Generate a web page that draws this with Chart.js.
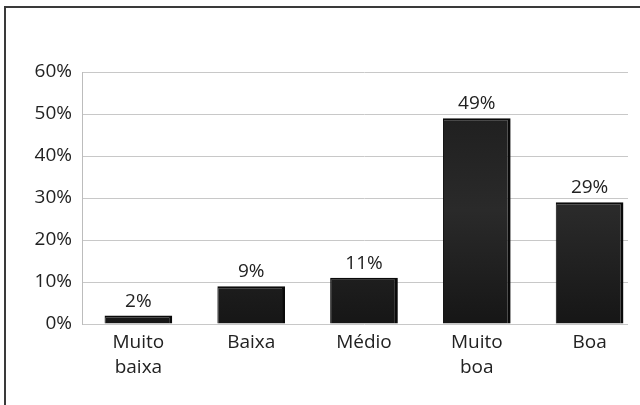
<!DOCTYPE html>
<html lang="pt-BR">
<head>
    <meta charset="UTF-8">
    <title>Avaliação</title>
    <script src="https://cdn.jsdelivr.net/npm/chart.js"></script>
    <style>
        html, body { margin: 0; padding: 0; background: #fff; overflow: hidden; }
        .frame {
            position: absolute; left: 4px; top: 6px;
            width: 700px; height: 500px;
            border-top: 2px solid #3a3a3a; border-left: 2px solid #3a3a3a;
        }
        .chart-box { position: absolute; left: 0; top: 0; width: 646px; height: 405px; }
    </style>
</head>
<body>
    <div class="frame"></div>
    <div class="chart-box">
        <canvas id="notaChart" width="646" height="405"></canvas>
    </div>

    <script>
        // Dados
        const categorias = [['Muito', 'baixa'], 'Baixa', 'Médio', ['Muito', 'boa'], 'Boa'];
        const percentuais = [2, 9, 11, 49, 29];
        const ticksY = [0, 10, 20, 30, 40, 50, 60];

        const fonte = '"Open Sans", Lato, sans-serif';

        // escreve o valor em cima de cada coluna
        const rotulosBarras = {
            id: 'rotulosBarras',
            afterDatasetsDraw(chart) {
                const ctx = chart.ctx;
                const meta = chart.getDatasetMeta(0);
                ctx.save();
                ctx.font = '19px ' + fonte;
                ctx.fillStyle = '#222';
                ctx.textAlign = 'center';
                ctx.textBaseline = 'alphabetic';
                meta.data.forEach((bar, i) => {
                    ctx.fillText(percentuais[i] + '%', bar.x, bar.y - 9);
                });
                ctx.restore();
            }
        };

        // corta as linhas de grade antes da borda direita
        const cortaGrade = {
            id: 'cortaGrade',
            beforeDatasetsDraw(chart) {
                const a = chart.chartArea;
                const ctx = chart.ctx;
                ctx.save();
                ctx.fillStyle = '#fff';
                ctx.fillRect(628, a.top - 2, chart.width - 628, a.bottom - a.top + 4);
                ctx.restore();
            }
        };

        const notaChart = new Chart(document.getElementById('notaChart'), {
            type: 'bar',
            data: {
                labels: categorias,
                datasets: [{
                    data: percentuais,
                    backgroundColor: function(context) {
                        const area = context.chart.chartArea;
                        if (!area) return '#222';
                        const g = context.chart.ctx.createLinearGradient(0, area.top, 0, area.bottom);
                        g.addColorStop(0, '#1b1b1b');
                        g.addColorStop(0.55, '#2a2a2a');
                        g.addColorStop(1, '#161616');
                        return g;
                    },
                    borderColor: '#0a0a0a',
                    borderWidth: { top: 2, right: 3, left: 1, bottom: 0 },
                    borderSkipped: false,
                    categoryPercentage: 1,
                    barPercentage: 0.6
                }]
            },
            options: {
                responsive: false,
                animation: false,
                maintainAspectRatio: false,
                layout: { padding: { top: 72, right: 0, left: 0, bottom: 0 } },
                plugins: {
                    legend: { display: false },
                    tooltip: { enabled: false }
                },
                scales: {
                    x: {
                        grid: { display: false, drawTicks: false },
                        border: { display: false },
                        ticks: {
                            color: '#222',
                            font: { family: fonte, size: 19, lineHeight: 1.32 },
                            padding: 6,
                            maxRotation: 0,
                            autoSkip: false
                        },
                        afterFit(scale) { scale.height = 81; }
                    },
                    y: {
                        min: 0,
                        max: 60,
                        afterBuildTicks(scale) {
                            scale.ticks = ticksY.map(v => ({ value: v }));
                        },
                        grid: { color: '#c8c8c8', lineWidth: 1, drawTicks: false },
                        border: { color: '#bcbcbc', width: 1 },
                        ticks: {
                            color: '#222',
                            font: { family: fonte, size: 19 },
                            padding: 10,
                            callback: v => v + '%'
                        },
                        afterFit(scale) { scale.width = 82; }
                    }
                }
            },
            plugins: [rotulosBarras, cortaGrade]
        });
    </script>
</body>
</html>
